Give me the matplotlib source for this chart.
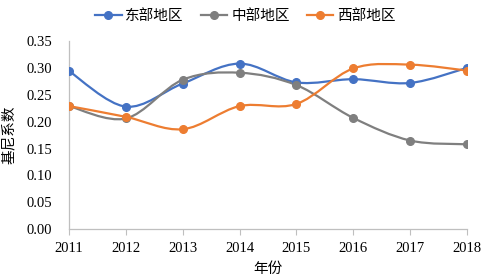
import matplotlib
matplotlib.use("Agg")
import matplotlib.pyplot as plt
from matplotlib.path import Path
from matplotlib.patches import PathPatch
from matplotlib.lines import Line2D
import numpy as np

years = [2011, 2012, 2013, 2014, 2015, 2016, 2017, 2018]
east = [0.294, 0.228, 0.271, 0.308, 0.273, 0.279, 0.272, 0.300]
central = [0.229, 0.206, 0.278, 0.291, 0.268, 0.207, 0.165, 0.158]
west = [0.229, 0.209, 0.186, 0.229, 0.233, 0.299, 0.306, 0.295]
series_names = ["东部地区", "中部地区", "西部地区"]
colors = ["#4472C4", "#7F7F7F", "#ED7D31"]
yticks = [0.00, 0.05, 0.10, 0.15, 0.20, 0.25, 0.30, 0.35]

plt.rcParams["font.family"] = ["Liberation Serif", "Noto Sans CJK SC", "DejaVu Sans"]
cjk = ["Noto Sans CJK SC", "DejaVu Sans"]

fig = plt.figure(figsize=(4.86, 2.79), dpi=100)
ax = fig.add_axes([69/486, 1-229.3/279, (467-69)/486, (229.3-41)/279])


def smooth_path(x, y, t=1/6):
    x = np.asarray(x, float); y = np.asarray(y, float)
    n = len(x)
    verts = [(x[0], y[0])]
    codes = [Path.MOVETO]
    for i in range(n-1):
        p0 = i-1 if i > 0 else i
        p3 = i+2 if i+2 < n else i+1
        c1 = (x[i] + (x[i+1]-x[p0])*t, y[i] + (y[i+1]-y[p0])*t)
        c2 = (x[i+1] - (x[p3]-x[i])*t, y[i+1] - (y[p3]-y[i])*t)
        verts += [c1, c2, (x[i+1], y[i+1])]
        codes += [Path.CURVE4]*3
    return Path(verts, codes)


handles = []
for vals, name, c in zip([east, central, west], series_names, colors):
    ax.add_patch(PathPatch(smooth_path(years, vals), facecolor="none",
                           edgecolor=c, lw=1.6, zorder=2))
    ax.plot(years, vals, linestyle="none", marker="o", ms=5.5, color=c, zorder=3)
    handles.append(Line2D([], [], color=c, lw=1.6, marker="o", ms=5.5, label=name))

ax.set_xlim(2011, 2018)
ax.set_ylim(0, 0.35)
ax.set_xticks(years)
ax.set_xticklabels([str(y) for y in years], fontsize=10.5)
ax.set_yticks(yticks)
ax.set_yticklabels([f"{v:.2f}" for v in yticks], fontsize=10.5)
ax.tick_params(axis="y", length=0, pad=12)
ax.tick_params(axis="x", length=4, color="#BFBFBF", pad=5)
for s in ["top", "right"]:
    ax.spines[s].set_visible(False)
for s in ["left", "bottom"]:
    ax.spines[s].set_color("#BFBFBF")
    ax.spines[s].set_linewidth(0.9)

ax.set_xlabel("年份", family=cjk, fontsize=10.5, labelpad=5)
ax.set_ylabel("基尼系数", family=cjk, fontsize=10.5, labelpad=8)

fig.legend(handles=handles, loc="upper center", bbox_to_anchor=(0.505, 1.015), ncol=3,
           frameon=False, prop={"family": cjk, "size": 10.5}, handlelength=1.8,
           columnspacing=1.2, handletextpad=0.25)

fig.savefig("out.png", dpi=100)
